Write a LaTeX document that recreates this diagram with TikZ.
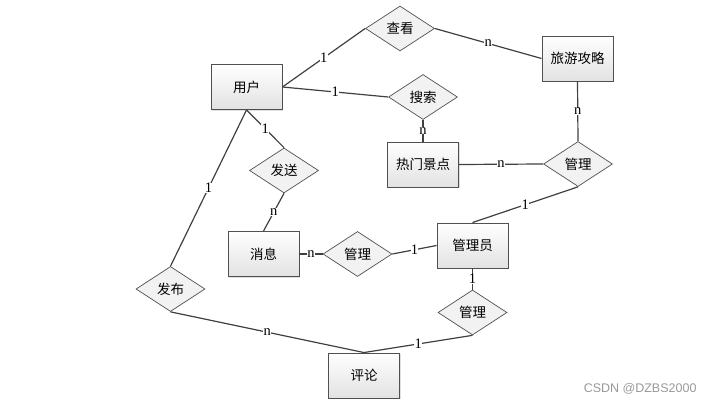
\documentclass[tikz,border=0pt]{standalone}
\usepackage{fontspec}
\setmainfont{Liberation Serif}
\newfontfamily\cjk{Noto Sans CJK SC}
\newfontfamily\wmfont{Liberation Sans}
\usetikzlibrary{shapes.geometric,shadows}
\definecolor{edgec}{HTML}{404040}
\definecolor{boxborder}{HTML}{505050}
\definecolor{diafill}{HTML}{F2F2F2}
\tikzset{
  entity/.style={rectangle, draw=boxborder, line width=0.9pt, top color=white, bottom color={rgb,255:red,226;green,226;blue,226},
     minimum width=71pt, minimum height=45pt, inner sep=0pt, font=\cjk\fontsize{13.5}{15}\selectfont,
     drop shadow={shadow xshift=1.2pt, shadow yshift=-1.2pt, opacity=0.25}},
  relation/.style={diamond, draw=boxborder, line width=0.7pt, fill=diafill, minimum width=69pt, minimum height=45pt,
     aspect=1.53, inner sep=0pt, font=\cjk\fontsize{13.5}{15}\selectfont},
  conn/.style={draw=edgec, line width=1.2pt},
  card/.style={fill=white, inner sep=0.3pt, font=\fontsize{14.5}{14.5}\selectfont, pos=0.5}
}
\begin{document}
\begin{tikzpicture}[x=1pt,y=-1pt]
\useasboundingbox (0,0) rectangle (714,406);
\node[entity] (user) at (246.5,87) {用户};
\node[entity] (guide) at (577.5,58.5) {旅游攻略};
\node[entity] (spot) at (423,164.5) {热门景点};
\node[entity] (admin) at (472.5,245.5) {管理员};
\node[entity] (msg) at (263.5,254) {消息};
\node[entity] (comment) at (364,375.5) {评论};
\node[relation] (view) at (400,28.5) {查看};
\node[relation] (search) at (423,97) {搜索};
\node[relation] (mgrR) at (578,164) {管理};
\node[relation] (send) at (284,170.5) {发送};
\node[relation] (mgrM) at (357.5,254) {管理};
\node[relation] (mgrL) at (472.5,312.5) {管理};
\node[relation] (publish) at (170.5,289) {发布};

\draw[conn] (user.east) -- node[card] {1} (view.west);
\draw[conn] (user.east) -- node[card] {1} (search.west);
\draw[conn] (view.east) -- node[card] {n} (guide.west);
\draw[conn] (guide.south) -- node[card] {n} (mgrR.north);
\draw[conn] (spot.east) -- node[card] {n} (mgrR.west);
\draw[conn] (search.south) -- node[card] {n} (spot.north);
\draw[conn] (mgrR.south) -- node[card] {1} (admin.north);
\draw[conn] (user.south) -- node[card] {1} (send.north);
\draw[conn] (send.south) -- node[card] {n} (msg.north);
\draw[conn] (msg.east) -- node[card] {n} (mgrM.west);
\draw[conn] (mgrM.east) -- node[card] {1} (admin.west);
\draw[conn] (admin.south) -- node[card] {1} (mgrL.north);
\draw[conn] (mgrL.south) -- node[card] {1} (comment.north);
\draw[conn] (user.south) -- node[card] {1} (publish.north);
\draw[conn] (publish.south) -- node[card] {n} (comment.north);

\node[font=\wmfont\fontsize{12.5}{14}\selectfont, text=gray!80, anchor=east] (wm) at (700,389) {CSDN @DZBS2000};
\end{tikzpicture}
\end{document}
